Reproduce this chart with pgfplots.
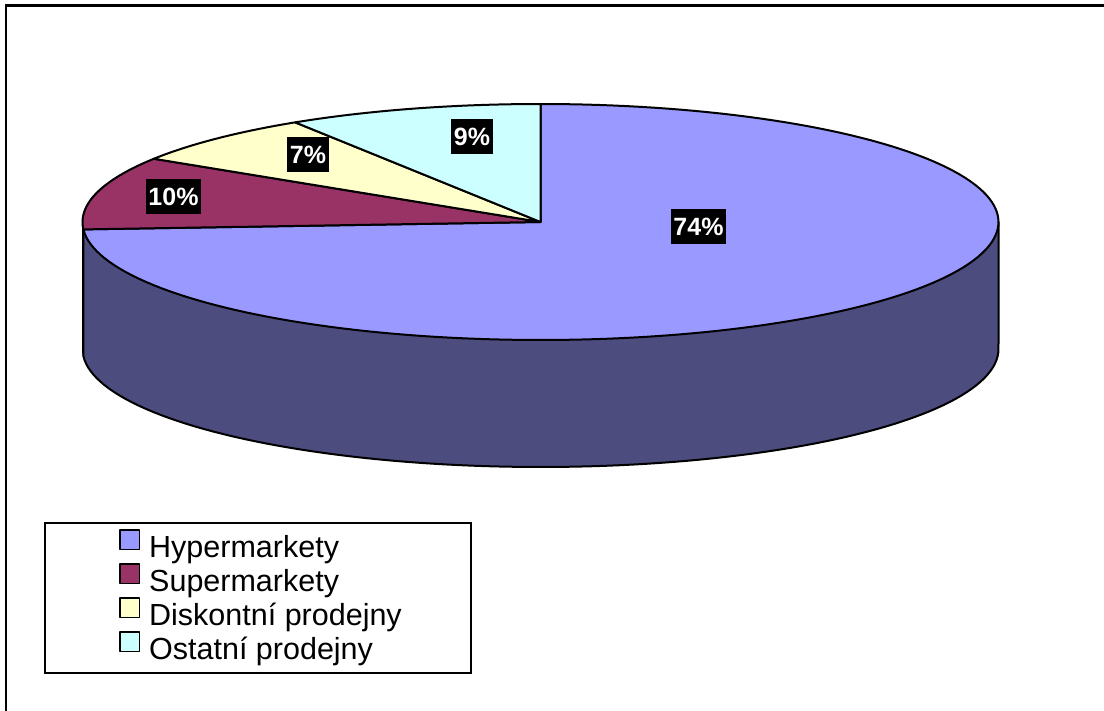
\documentclass[border=0pt]{standalone}
\usepackage{pgfplots}
\pgfplotsset{compat=1.18}
\usepackage{pgfplotstable}
\usepackage{fontspec}
\setmainfont{Liberation Sans}

\definecolor{hyper}{HTML}{9999FF}
\definecolor{hyperside}{HTML}{4C4C7F}
\definecolor{super}{HTML}{993366}
\definecolor{superside}{HTML}{4D1A33}
\definecolor{disk}{HTML}{FFFFCC}
\definecolor{ost}{HTML}{CCFFFF}

% market shares in percent
\pgfplotstableread{
share
74
10
7
9
}\sharetable

\pgfplotstablegetelem{0}{share}\of\sharetable \let\vA\pgfplotsretval
\pgfplotstablegetelem{1}{share}\of\sharetable \let\vB\pgfplotsretval
\pgfplotstablegetelem{2}{share}\of\sharetable \let\vC\pgfplotsretval
\pgfplotstablegetelem{3}{share}\of\sharetable \let\vD\pgfplotsretval

% ellipse geometry (centre, radii, height of the disc)
\def\cx{540.5}
\def\cy{222}
\def\rx{458}
\def\ry{118}
\def\dep{127}

% slice boundaries, clockwise from twelve o'clock
\pgfmathsetmacro\aA{90}
\pgfmathsetmacro\aB{\aA-3.6*\vA}
\pgfmathsetmacro\aC{\aB-3.6*\vB}
\pgfmathsetmacro\aD{\aC-3.6*\vC}
\pgfmathsetmacro\aE{\aD-3.6*\vD}
\pgfmathsetmacro\xB{\cx+\rx*cos(\aB)}
\pgfmathsetmacro\yB{\cy-\ry*sin(\aB)}
\pgfmathsetmacro\xL{\cx-\rx}
\pgfmathsetmacro\xR{\cx+\rx}

\begin{document}
\begin{tikzpicture}
\begin{axis}[
  name=ax,
  scale only axis,
  width=1104pt, height=711pt,
  xmin=0, xmax=1104, ymin=0, ymax=711,
  y dir=reverse,
  hide axis, clip=false,
  every axis plot/.append style={line join=round},
  legend image code/.code={\draw[#1] (0.75pt,0.75pt) rectangle (20.25pt,20.25pt);},
  legend style={
    at={(axis cs:119,529)}, anchor=north west,
    draw=none, fill=none, inner sep=0pt,
    column sep=9pt, row sep=-1.5pt,
    font=\fontsize{30.5}{36}\selectfont,
    nodes={inner sep=0pt, text height=22pt, text depth=7pt},
  },
  legend cell align=left,
]
% front wall of the disc
\addplot[forget plot, fill=hyperside, draw=black, line width=2pt,
  domain=\aB:0, samples=100]
  ({\cx+\rx*cos(x)},{\cy+\dep-\ry*sin(x)})
  -- (axis cs:\xR,\cy) -- (axis cs:\xB,\yB) -- cycle;
\addplot[forget plot, fill=superside, draw=black, line width=1pt,
  domain=-180:\aB, samples=5]
  ({\cx+\rx*cos(x)},{\cy+\dep-\ry*sin(x)})
  -- (axis cs:\xB,\yB) -- (axis cs:\xL,\cy) -- cycle;

% top faces
\addplot[forget plot, fill=hyper, draw=black, line width=2pt,
  domain=\aB:\aA, samples=150]
  ({\cx+\rx*cos(x)},{\cy-\ry*sin(x)}) -- (axis cs:\cx,\cy) -- cycle;
\addplot[forget plot, fill=super, draw=black, line width=2pt,
  domain=\aC:\aB, samples=40]
  ({\cx+\rx*cos(x)},{\cy-\ry*sin(x)}) -- (axis cs:\cx,\cy) -- cycle;
\addplot[forget plot, fill=disk, draw=black, line width=2pt,
  domain=\aD:\aC, samples=40]
  ({\cx+\rx*cos(x)},{\cy-\ry*sin(x)}) -- (axis cs:\cx,\cy) -- cycle;
\addplot[forget plot, fill=ost, draw=black, line width=2pt,
  domain=\aE:\aD, samples=40]
  ({\cx+\rx*cos(x)},{\cy-\ry*sin(x)}) -- (axis cs:\cx,\cy) -- cycle;

% percentage labels
\tikzset{pct/.style={fill=black, text=white,
  font=\fontsize{25}{30}\selectfont\bfseries,
  inner xsep=2.5pt, inner ysep=8.5pt, text height=18pt, text depth=0pt}}
\node[pct] at (axis cs:698.5,226.5) {\vA\%};
\node[pct] at (axis cs:173.5,196.5) {\vB\%};
\node[pct] at (axis cs:308,154.5) {\vC\%};
\node[pct] at (axis cs:472,136.5) {\vD\%};

% legend
\addlegendimage{fill=hyper, draw=black, line width=1.5pt}
\addlegendentry{Hypermarkety}
\addlegendimage{fill=super, draw=black, line width=1.5pt}
\addlegendentry{Supermarkety}
\addlegendimage{fill=disk, draw=black, line width=1.5pt}
\addlegendentry{Diskontní prodejny}
\addlegendimage{fill=ost, draw=black, line width=1.5pt}
\addlegendentry{Ostatní prodejny}
\draw[line width=2pt] (axis cs:44.5,523) rectangle (axis cs:470.5,672.5);

% chart area frame
\draw[line width=2.5pt] (axis cs:6,730) -- (axis cs:6,5.5) -- (axis cs:1120,5.5);
\end{axis}
\pgfresetboundingbox
\useasboundingbox (ax.south west) rectangle (ax.north east);
\end{tikzpicture}
\end{document}
